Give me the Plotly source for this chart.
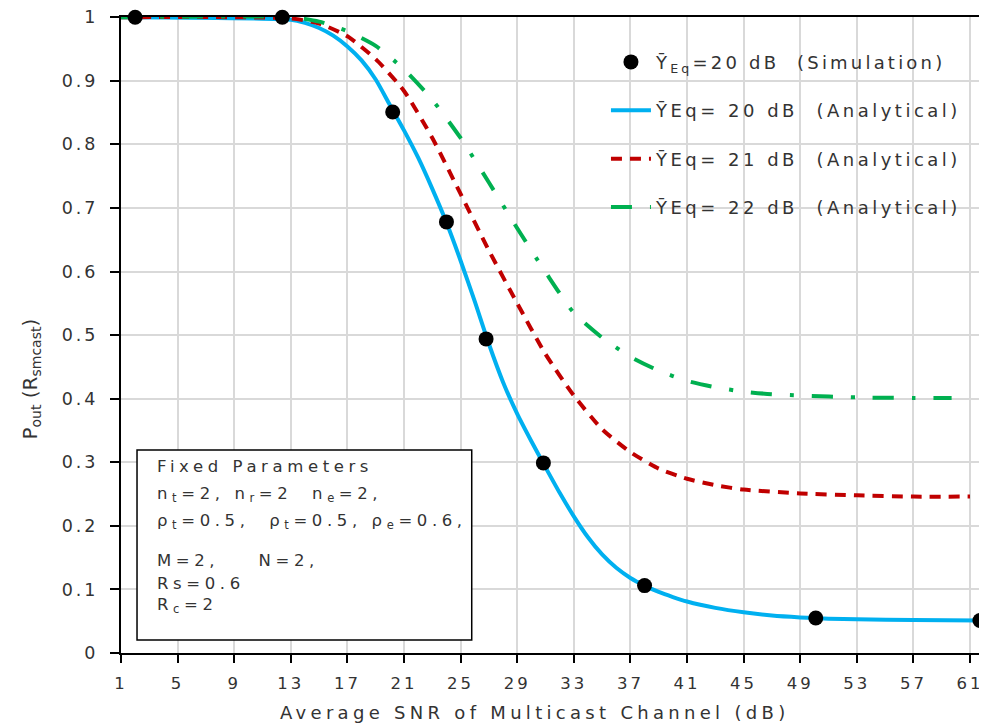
import plotly.graph_objects as go

# ---------------- data ----------------
sim_x = [2, 12.4, 20.2, 24.0, 26.8, 30.85, 38.0, 50.1, 61.7]
sim_y = [1.0, 1.0, 0.851, 0.678, 0.494, 0.299, 0.106, 0.055, 0.051]

a20_x = [1, 13, 14, 15, 16, 17, 18, 19, 20, 21, 22, 23, 24, 25, 26, 27, 28, 29, 30, 31, 32, 33,
         34, 35, 36, 37, 38, 39, 40, 41, 43, 45, 47, 49, 51, 53, 57, 61.7]
a20_y = [1.0, 0.996, 0.991, 0.983, 0.971, 0.954, 0.932, 0.902, 0.862, 0.822, 0.779, 0.730, 0.677,
         0.617, 0.553, 0.486, 0.426, 0.376, 0.333, 0.292, 0.252, 0.215, 0.182, 0.155, 0.134,
         0.118, 0.106, 0.096, 0.088, 0.081, 0.071, 0.064, 0.059, 0.056, 0.054, 0.053, 0.052, 0.051]

a21_x = [1, 13, 15, 17, 19, 21, 23, 25, 27, 29, 31, 33, 35, 37, 39, 41, 43, 45, 49, 53, 57, 61]
a21_y = [1.0, 0.998, 0.99, 0.97, 0.934, 0.884, 0.81, 0.722, 0.633, 0.55, 0.47, 0.405, 0.352,
         0.316, 0.29, 0.274, 0.264, 0.257, 0.251, 0.248, 0.246, 0.246]

a22_x = [1, 13, 15, 17, 19, 21, 23, 25, 27, 29, 31, 33, 35, 37, 39, 41, 43, 45, 47, 49, 53, 57, 59.7]
a22_y = [1.0, 1.0, 0.993, 0.978, 0.955, 0.918, 0.87, 0.81, 0.74, 0.668, 0.599, 0.535, 0.496,
         0.466, 0.444, 0.428, 0.418, 0.411, 0.407, 0.405, 0.402, 0.401, 0.401]

x_ticks = [1, 5, 9, 13, 17, 21, 25, 29, 33, 37, 41, 45, 49, 53, 57, 61]
x_tick_labels = ["1", "5", "9", "13", "17", "21", "25", "29", "33", "37", "41", "45", "49", "53", "57", "61"]
y_ticks = [0, 0.1, 0.2, 0.3, 0.4, 0.5, 0.6, 0.7, 0.8, 0.9, 1]
y_tick_labels = ["0", "0.1", "0.2", "0.3", "0.4", "0.5", "0.6", "0.7", "0.8", "0.9", "1"]

NB = "\u00a0"
legend_names = [
    "Ȳ<sub>Eq</sub>=20 dB" + NB * 2 + "(Simulation)",
    "ȲEq= 20 dB" + NB * 2 + "(Analytical)",
    "ȲEq= 21 dB" + NB * 2 + "(Analytical)",
    "ȲEq= 22 dB" + NB * 2 + "(Analytical)",
]

box_lines = [
    "Fixed Parameters",
    "n<sub>t</sub>=2, n<sub>r</sub>=2" + NB * 2 + "n<sub>e</sub>=2,",
    "ρ<sub>t</sub>=0.5," + NB * 2 + "ρ<sub>t</sub>=0.5, ρ<sub>e</sub>=0.6,",
    "M=2," + NB * 4 + "N=2,",
    "Rs=0.6",
    "R<sub>c</sub>=2",
]
box_line_y = [0.2925, 0.250, 0.206, 0.1447, 0.110, 0.0739]

FONT = "DejaVu Sans, Liberation Sans, Arial, sans-serif"
TXT = "#333333"


def sp(t, ls):
    return '<span style="letter-spacing:%spx">%s</span>' % (ls, t)


fig = go.Figure()

fig.add_trace(go.Scatter(x=a20_x, y=a20_y, mode="lines", name=sp(legend_names[1], 3.5),
                         line=dict(color="#00B0F0", width=4, shape="spline", smoothing=0.6),
                         legendgroup="b", legendrank=2))
fig.add_trace(go.Scatter(x=a21_x, y=a21_y, mode="lines", name=sp(legend_names[2], 3.5),
                         line=dict(color="#C00000", width=4, dash="11px,8px", shape="spline", smoothing=0.6),
                         legendgroup="c", legendrank=3))
fig.add_trace(go.Scatter(x=a22_x, y=a22_y, mode="lines", name=sp(legend_names[3], 3.5),
                         line=dict(color="#00B050", width=4, dash="21px,18px,4px,18px", shape="spline", smoothing=0.6),
                         legendgroup="d", legendrank=4))
fig.add_trace(go.Scatter(x=sim_x, y=sim_y, mode="markers", name=sp(legend_names[0], 3.2),
                         marker=dict(color="black", size=15, symbol="circle"),
                         cliponaxis=False, legendgroup="a", legendrank=1))

# the page body adds an 8px margin, so the figure is sized/offset to compensate
fig.update_layout(
    width=979, height=719,
    margin=dict(l=113, r=0, t=9, b=74),
    plot_bgcolor="white", paper_bgcolor="white",
    font=dict(family=FONT, size=17, color=TXT),
    showlegend=True,
    legend=dict(x=0.56, y=0.958, xanchor="left", yanchor="top",
                bgcolor="rgba(0,0,0,0)", borderwidth=0,
                font=dict(size=18, color=TXT, family=FONT),
                traceorder="grouped", tracegroupgap=22, itemwidth=40),
    xaxis=dict(range=[1, 62.2], tickmode="array", tickvals=x_ticks,
               ticktext=[sp(t, 3) for t in x_tick_labels],
               showgrid=True, gridcolor="#d9d9d9", gridwidth=1.5,
               showline=True, linecolor="black", linewidth=2, mirror=True,
               ticks="outside", ticklen=8, tickwidth=2, tickcolor="black",
               ticklabelstandoff=6,
               zeroline=False, tickfont=dict(size=16.5, color=TXT, family=FONT)),
    yaxis=dict(range=[0, 1.0003], tickmode="array", tickvals=y_ticks,
               ticktext=[sp(t, 3) for t in y_tick_labels],
               showgrid=True, gridcolor="#d9d9d9", gridwidth=1.5,
               showline=True, linecolor="black", linewidth=2,
               ticks="outside", ticklen=9, tickwidth=2, tickcolor="black",
               ticklabelstandoff=8, ticklabeloverflow="allow",
               zeroline=False, tickfont=dict(size=17.5, color=TXT, family=FONT)),
)

annotations = [
    dict(text=sp("Average SNR of Multicast Channel (dB)", 4.3), xref="paper", yref="paper",
         x=0.477, y=-0.0928, xanchor="center", yanchor="middle", showarrow=False,
         font=dict(size=18, color=TXT, family=FONT)),
    dict(text="P<sub>out</sub> (R<sub>smcast</sub>)", xref="paper", yref="paper",
         x=-0.105, y=0.43, xanchor="center", yanchor="middle", showarrow=False,
         textangle=-90, font=dict(size=20, color=TXT, family=FONT)),
]
for t, yy in zip(box_lines, box_line_y):
    annotations.append(dict(text=sp(t, 4.6), xref="paper", yref="paper", x=0.039, y=yy,
                            xanchor="left", yanchor="middle", showarrow=False,
                            font=dict(size=16.5, color=TXT, family=FONT)))
fig.update_layout(annotations=annotations)

fig.add_shape(type="rect", xref="paper", yref="paper",
              x0=0.0185, x1=0.405, y0=0.0204, y1=0.319,
              line=dict(color="black", width=1.5), fillcolor="white", layer="above")
# short stub of the x axis line to the left of the y axis
fig.add_shape(type="line", xref="paper", yref="paper", x0=-0.012, x1=0, y0=0, y1=0,
              line=dict(color="black", width=2), layer="above")

fig.write_html("out.html")
